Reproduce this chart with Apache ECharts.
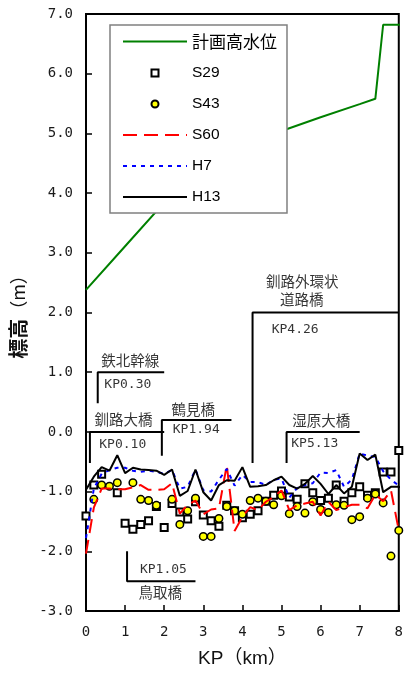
<!DOCTYPE html>
<html><head><meta charset="utf-8">
<script src="https://cdn.jsdelivr.net/npm/echarts@6/dist/echarts.min.js"></script>
<style>html,body{margin:0;padding:0;background:#fff}#c{width:406px;height:675px}</style>
</head><body><div id="c"></div>
<script>
// ---- data ----
const kp = [0,0.2,0.4,0.6,0.8,1.0,1.2,1.4,1.6,1.8,2.0,2.2,2.4,2.6,2.8,3.0,3.2,3.4,3.6,3.8,4.0,
            4.2,4.4,4.6,4.8,5.0,5.2,5.4,5.6,5.8,6.0,6.2,6.4,6.6,6.8,7.0,7.2,7.4,7.6,7.8,8.0];
const h13 = [-0.97,-0.75,-0.59,-0.65,-0.39,-0.69,-0.60,-0.63,-0.64,-0.65,-0.72,-0.63,-1.07,-0.99,-0.63,-1.01,-1.15,-0.89,-0.81,-0.82,-0.59,
             -0.92,-0.91,-0.89,-0.81,-0.75,-0.89,-0.95,-0.87,-0.74,-0.87,-1.04,-0.89,-1.03,-0.92,-0.36,-0.47,-0.38,-1.01,-0.92,-0.92];
const h7  = [-1.78,-0.95,-0.70,-0.64,-0.60,-0.60,-0.65,-0.67,-0.65,-0.67,-0.70,-0.64,-0.95,-0.92,-0.63,-0.98,-1.00,-0.80,-0.62,-0.90,-0.72,
             -0.84,-0.84,-0.89,-0.80,-0.78,-1.10,-0.94,-0.89,-0.86,-0.68,-0.69,-0.64,-0.92,-0.80,-0.36,-0.40,-0.42,-0.66,-0.80,-0.90];
const s60 = [-2.04,-1.27,-0.95,-0.95,-0.96,-0.96,-0.93,-0.89,-0.97,-0.97,-0.96,-0.86,-1.37,-1.22,-1.15,-1.38,-1.30,-1.28,-0.56,-1.66,-1.42,
             -1.26,-1.31,-1.17,-1.09,-0.98,-1.31,-1.23,-1.20,-1.17,-1.40,-1.17,-1.31,-1.26,-1.22,-1.22,-1.28,-1.05,-1.16,-0.98,-1.65];
const s29 = [[0,-1.41],[0.2,-0.89],[0.4,-0.71],[0.8,-1.02],[1.0,-1.53],[1.2,-1.63],[1.4,-1.55],[1.6,-1.49],[1.8,-1.25],[2.0,-1.60],
             [2.2,-1.20],[2.4,-1.34],[2.6,-1.46],[2.8,-1.17],[3.0,-1.39],[3.2,-1.49],[3.4,-1.58],[3.6,-1.23],[3.8,-1.32],[4.0,-1.44],
             [4.2,-1.38],[4.4,-1.32],[4.6,-1.16],[4.8,-1.06],[5.0,-0.99],[5.2,-1.09],[5.4,-1.13],[5.6,-0.87],[5.8,-1.02],[6.0,-1.15],
             [6.2,-1.11],[6.4,-0.89],[6.6,-1.16],[6.8,-1.02],[7.0,-0.92],[7.2,-1.06],[7.4,-1.02],[7.6,-0.67],[7.8,-0.67],[8.0,-0.31]];
const s43 = [[0.2,-1.13],[0.4,-0.89],[0.6,-0.91],[0.8,-0.85],[1.2,-0.85],[1.4,-1.13],[1.6,-1.15],[1.8,-1.23],[2.2,-1.13],[2.4,-1.55],
             [2.6,-1.32],[2.8,-1.11],[3.0,-1.75],[3.2,-1.75],[3.4,-1.45],[3.6,-1.25],[3.8,-1.32],[4.0,-1.38],[4.2,-1.15],[4.4,-1.11],
             [4.6,-1.16],[4.8,-1.22],[5.0,-1.07],[5.2,-1.37],[5.4,-1.25],[5.6,-1.36],[5.8,-1.17],[6.0,-1.30],[6.2,-1.35],[6.4,-1.22],
             [6.6,-1.23],[6.8,-1.47],[7.0,-1.42],[7.2,-1.11],[7.4,-1.04],[7.6,-1.19],[7.8,-2.08],[8.0,-1.65]];
const planKp    = [0, 1.0, 2.0, 3.0, 5.0, 6.0, 7.0, 7.4, 7.6, 8.0, 8.2];
const planLevel = [2.38, 3.11, 3.84, 4.58, 5.04, 5.27, 5.49, 5.58, 6.82, 6.82, 6.82];
const seriesNames = ['計画高水位','S29','S43','S60','H7','H13'];
const yMin = -3, yMax = 7, yStep = 1;
const xMin = 0, xMax = 8, xStep = 1;

// bridge annotations (data coordinates)
const bridgeLines = [
  [[0.10,-0.52],[0.10,0.0],[2.0,0.0]],     // 釧路大橋
  [[0.30,0.48],[0.30,1.0],[2.0,1.0]],      // 鉄北幹線
  [[1.94,-0.40],[1.94,0.2],[3.72,0.2]],    // 鶴見橋
  [[4.26,-0.52],[4.26,2.0],[8.0,2.0]],     // 釧路外環状道路橋
  [[5.13,-0.52],[5.13,0.0],[7.0,0.0]],     // 湿原大橋
  [[1.05,-2.0],[1.05,-2.5],[2.8,-2.5]]     // 鳥取橋
];
const bridgeTexts = [
  ['釧路大橋',0.96,0.20,'j'], ['KP0.10',0.94,-0.22,'k'],
  ['鉄北幹線',1.13,1.20,'j'], ['KP0.30',1.07,0.79,'k'],
  ['鶴見橋',2.74,0.38,'j'],   ['KP1.94',2.82,0.04,'k'],
  ['釧路外環状',5.53,2.52,'j'], ['道路橋',5.52,2.22,'j'], ['KP4.26',5.35,1.72,'k'],
  ['湿原大橋',6.02,0.19,'j'], ['KP5.13',5.85,-0.19,'k'],
  ['KP1.05',1.98,-2.30,'k'], ['鳥取橋',1.90,-2.69,'j']
];

// ---- chart ----
const chart = echarts.init(document.getElementById('c'), null, {renderer:'canvas'});
const zip = (xs, ys) => xs.map((x,i) => [x, ys[i]]);
const sqIcon = 'path://M0 0M14 14M3.5 3.5L10.5 3.5L10.5 10.5L3.5 10.5Z';
const ciIcon = 'path://M0 0M14 14M3.5 7A3.5 3.5 0 1 1 10.5 7A3.5 3.5 0 1 1 3.5 7Z';
const monoFont = "'DejaVu Sans Mono', monospace";
const cjkFont = "'Noto Sans CJK JP', sans-serif";
const noSym = {color:'rgba(0,0,0,0)', borderColor:'rgba(0,0,0,0)', borderWidth:0, opacity:0};

const series = [
  {name:seriesNames[0], type:'line', data:zip(planKp, planLevel), symbol:'none', clip:false,
   lineStyle:{color:'#008000', width:2}, itemStyle:{color:'#008000'}, z:3},
  {name:seriesNames[1], type:'scatter', data:s29, symbol:'rect', symbolSize:7,
   itemStyle:{color:'#fff', borderColor:'#000', borderWidth:2, opacity:1}, z:4},
  {name:seriesNames[2], type:'scatter', data:s43, symbol:'circle', symbolSize:7.5,
   itemStyle:{color:'#ffff00', borderColor:'#000', borderWidth:1.5, opacity:1}, z:5},
  {name:seriesNames[3], type:'line', data:zip(kp, s60), symbol:'none',
   lineStyle:{color:'#ff0000', width:2, type:[14,7]}, itemStyle:{color:'#ff0000'}, z:6},
  {name:seriesNames[4], type:'line', data:zip(kp, h7), symbol:'none',
   lineStyle:{color:'#0000ff', width:2, type:[4,5]}, itemStyle:{color:'#0000ff'}, z:7},
  {name:seriesNames[5], type:'line', data:zip(kp, h13).concat([[8.2,-0.97]]), symbol:'none', clip:false,
   lineStyle:{color:'#000', width:2}, itemStyle:{color:'#000'}, z:8}
];
bridgeLines.forEach((pts, i) => series.push({
  name:'bridge'+i, type:'line', data:pts, symbol:'none', silent:true, clip:false,
  lineStyle:{color:'#000', width:2}, z:2
}));
series.push({
  name:'bridgeText', type:'scatter', symbolSize:0, silent:true, clip:false, z:9,
  data: bridgeTexts.map(t => ({value:[t[1], t[2]], label:{
    show:true, position:'inside', formatter:t[0], color:'#000',
    fontFamily: t[3]==='k' ? monoFont : cjkFont, fontSize: t[3]==='k' ? 13 : 14.5
  }}))
});

chart.setOption({
  animation:false,
  backgroundColor:'#fff',
  grid:{left:86, right:5, top:14, bottom:64, show:true, borderColor:'#000', borderWidth:2, backgroundColor:'transparent'},
  legend:{
    data:[{name:'計画高水位', itemStyle:noSym},{name:'S29', icon:sqIcon},{name:'S43', icon:ciIcon},
          {name:'S60', itemStyle:noSym},{name:'H7', itemStyle:noSym},{name:'H13', itemStyle:noSym}],
    orient:'vertical', left:110, top:25, itemWidth:64, itemHeight:14, itemGap:15,
    padding:[8,10,8,12], backgroundColor:'#fff', borderColor:'#808080', borderWidth:1.5, borderRadius:0,
    selectedMode:false,
    textStyle:{color:'#000', fontSize:15.5, fontFamily:"'Liberation Sans', Arial, sans-serif",
      rich:{c:{fontSize:17, fontFamily:cjkFont, color:'#000'}, l:{fontSize:15.5, fontFamily:"'Liberation Sans', Arial, sans-serif", color:'#000'}}},
    formatter: n => /[^\x00-\x7f]/.test(n) ? '{c|'+n+'}' : '{l|'+n+'}'
  },
  xAxis:{
    type:'value', min:xMin, max:xMax, interval:xStep,
    name:'KP（km）', nameLocation:'middle', nameGap:38,
    nameTextStyle:{color:'#111', fontSize:19, fontFamily:"'Liberation Sans', 'Noto Sans CJK JP', sans-serif"},
    axisLine:{show:true, onZero:false, lineStyle:{color:'#000', width:2}},
    axisTick:{show:true, inside:true, length:6, lineStyle:{color:'#000', width:1.5}},
    axisLabel:{color:'#1a1a1a', fontSize:14, fontFamily:monoFont, margin:14},
    splitLine:{show:false}
  },
  yAxis:{
    type:'value', min:yMin, max:yMax, interval:yStep,
    name:'{b|標高}{n|（m）}', nameLocation:'middle', nameGap:43,
    nameTextStyle:{color:'#111', rich:{
      b:{fontSize:20, fontWeight:'bold', fontFamily:cjkFont, color:'#111'},
      n:{fontSize:18, fontFamily:cjkFont, color:'#111'}}},
    axisLine:{show:true, onZero:false, lineStyle:{color:'#000', width:2}},
    axisTick:{show:true, inside:true, length:6, lineStyle:{color:'#000', width:1.5}},
    axisLabel:{color:'#1a1a1a', fontSize:14, fontFamily:monoFont, margin:13, formatter:v => v.toFixed(1)},
    splitLine:{show:false}
  },
  series: series
});
</script></body></html>
